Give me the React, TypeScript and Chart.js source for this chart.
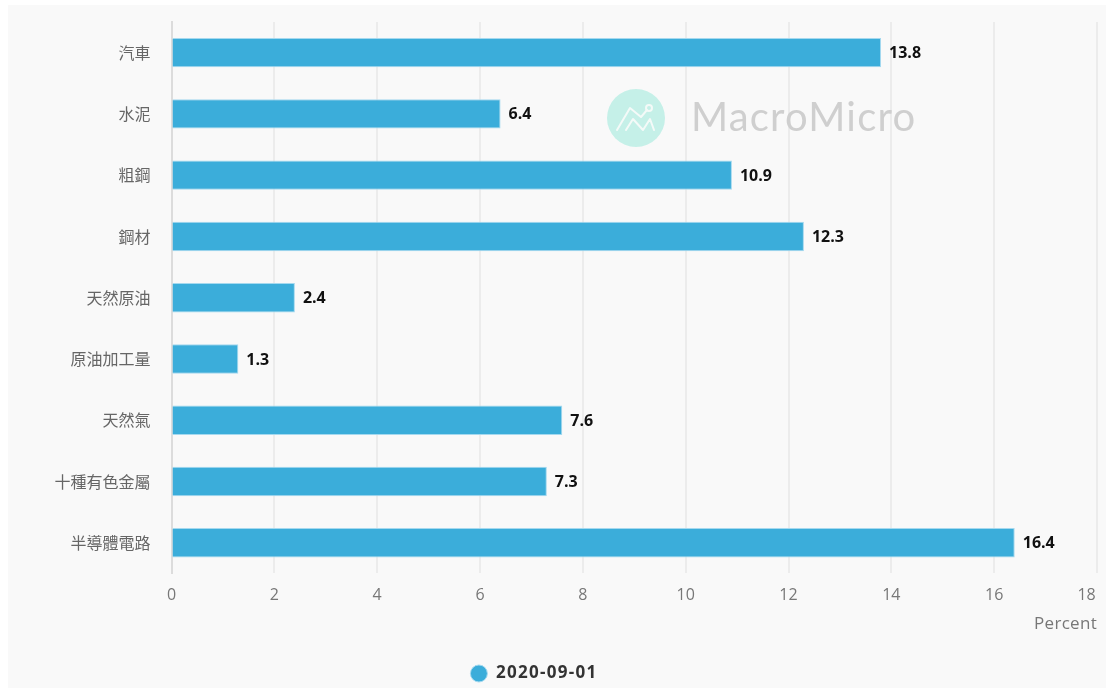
import React, { useEffect, useRef } from "react";
import { Chart, registerables } from "chart.js";

Chart.register(...registerables);

const categories = ["汽車", "水泥", "粗鋼", "鋼材", "天然原油", "原油加工量", "天然氣", "十種有色金屬", "半導體電路"];
const growth = [13.8, 6.4, 10.9, 12.3, 2.4, 1.3, 7.6, 7.3, 16.4];
const seriesName = "2020-09-01";
const xTicks = [0, 2, 4, 6, 8, 10, 12, 14, 16, 18];
const unitLabel = "Percent";
const brandName = "MacroMicro";

const BAR_BLUE = "#3badda";
const BAR_EDGE = "#a5d9ef";
const FONT = "'Open Sans', 'Noto Sans CJK TC', sans-serif";
const CJK_FONT = "'Noto Sans CJK TC', 'Open Sans', sans-serif";

// Brand mark and wordmark sitting behind the bars
const brandMark = {
  id: "brandMark",
  beforeDatasetsDraw(chart: Chart) {
    const ctx = chart.ctx as CanvasRenderingContext2D & { letterSpacing: string };
    const cx = 628;
    const cy = 113;
    ctx.save();
    ctx.fillStyle = "#c5f0e8";
    ctx.beginPath();
    ctx.arc(cx, cy, 29, 0, Math.PI * 2);
    ctx.fill();
    ctx.strokeStyle = "#f4faf8";
    ctx.lineWidth = 2;
    ctx.lineJoin = "round";
    ctx.lineCap = "round";
    ctx.beginPath();
    ctx.moveTo(cx - 19, cy + 12);
    ctx.lineTo(cx - 6, cy - 10);
    ctx.lineTo(cx + 5, cy - 1);
    ctx.lineTo(cx + 11, cy - 8);
    ctx.stroke();
    ctx.beginPath();
    ctx.moveTo(cx - 10, cy + 12);
    ctx.lineTo(cx - 3, cy + 1);
    ctx.lineTo(cx + 7, cy + 12);
    ctx.lineTo(cx + 14, cy + 1);
    ctx.lineTo(cx + 18, cy + 12);
    ctx.stroke();
    ctx.beginPath();
    ctx.arc(cx + 13, cy - 10, 3, 0, Math.PI * 2);
    ctx.stroke();
    ctx.fillStyle = "#cfcfcf";
    ctx.font = "400 40px Lato, sans-serif";
    ctx.letterSpacing = "1.2px";
    ctx.textAlign = "left";
    ctx.textBaseline = "middle";
    ctx.fillText(brandName, 683, 113);
    ctx.restore();
  },
};

// Value at the end of each bar, and the unit under the axis
const barValues = {
  id: "barValues",
  afterDatasetsDraw(chart: Chart) {
    const { scales } = chart;
    const ctx = chart.ctx as CanvasRenderingContext2D & { letterSpacing: string };
    const meta = chart.getDatasetMeta(0);
    ctx.save();
    ctx.fillStyle = "#111111";
    ctx.font = `bold 16px ${FONT}`;
    ctx.textAlign = "left";
    ctx.textBaseline = "middle";
    meta.data.forEach((bar, i) => {
      ctx.fillText(growth[i].toFixed(1), bar.x + 8, bar.y + 1);
    });
    ctx.fillStyle = "#777777";
    ctx.font = `17px ${FONT}`;
    ctx.letterSpacing = "0.3px";
    ctx.textAlign = "right";
    ctx.fillText(unitLabel, scales.x.right, 619);
    ctx.restore();
  },
};

// The legend sits left of the canvas centre, slightly lower, with wider letter spacing
const legendPlacement = {
  id: "legendPlacement",
  afterUpdate(chart: Chart) {
    const legend = chart.legend as any;
    legend.left -= 25;
    legend.right -= 25;
    legend.top += 4;
    legend.bottom += 4;
    if (!legend.spaced) {
      const drawLegend = legend.draw.bind(legend);
      const ctx = chart.ctx as CanvasRenderingContext2D & { letterSpacing: string };
      legend.draw = () => {
        ctx.letterSpacing = "1.3px";
        drawLegend();
        ctx.letterSpacing = "0px";
      };
      legend.spaced = true;
    }
  },
};

export default function App() {
  const canvasRef = useRef<HTMLCanvasElement>(null);

  useEffect(() => {
    const chart = new Chart(canvasRef.current!, {
      type: "bar",
      data: {
        labels: categories,
        datasets: [
          {
            label: seriesName,
            data: growth,
            backgroundColor: BAR_BLUE,
            borderColor: BAR_EDGE,
            borderWidth: 1,
            categoryPercentage: 1,
            barPercentage: 0.48,
          },
        ],
      },
      options: {
        indexAxis: "y",
        responsive: false,
        animation: false,
        layout: { padding: { top: 17, right: 9, bottom: 0, left: 0 } },
        scales: {
          x: {
            type: "linear",
            min: xTicks[0],
            max: xTicks[xTicks.length - 1],
            afterBuildTicks(axis) {
              axis.ticks = xTicks.map((value) => ({ value }));
            },
            afterFit(axis) {
              axis.height = 81.6;
              axis.paddingLeft = 0;
              axis.paddingRight = 0;
            },
            grid: { color: "#ececec", lineWidth: 2, drawTicks: false },
            border: { display: false },
            ticks: {
              color: "#777777",
              font: { family: FONT, size: 16 },
              padding: 12,
              maxRotation: 0,
              // The last label is pulled inward so it stays inside the panel
              callback: (value) =>
                value === xTicks[xTicks.length - 1] ? `${value}\u00a0\u00a0\u00a0\u00a0\u00a0` : `${value}`,
            },
          },
          y: {
            grid: { display: false, drawTicks: false },
            border: { color: "#dcdcdc", width: 2 },
            afterFit(axis) {
              axis.width = 163.5;
              axis.paddingTop = 0;
              axis.paddingBottom = 0;
            },
            ticks: { color: "#666666", font: { family: CJK_FONT, size: 16 }, padding: 21 },
          },
        },
        plugins: {
          tooltip: { enabled: false },
          legend: {
            position: "bottom",
            labels: {
              usePointStyle: true,
              pointStyle: "circle",
              boxWidth: 17,
              boxHeight: 12,
              color: "#333333",
              font: { family: FONT, size: 17, weight: "bold" },
              padding: 6,
            },
          },
        },
      },
      plugins: [brandMark, barValues, legendPlacement],
    });
    return () => chart.destroy();
  }, []);

  return (
    <div style={{ position: "absolute", left: 8, top: 5, width: 1098, height: 683, background: "#f9f9f9" }}>
      <canvas ref={canvasRef} width={1098} height={683} style={{ display: "block" }} />
    </div>
  );
}
